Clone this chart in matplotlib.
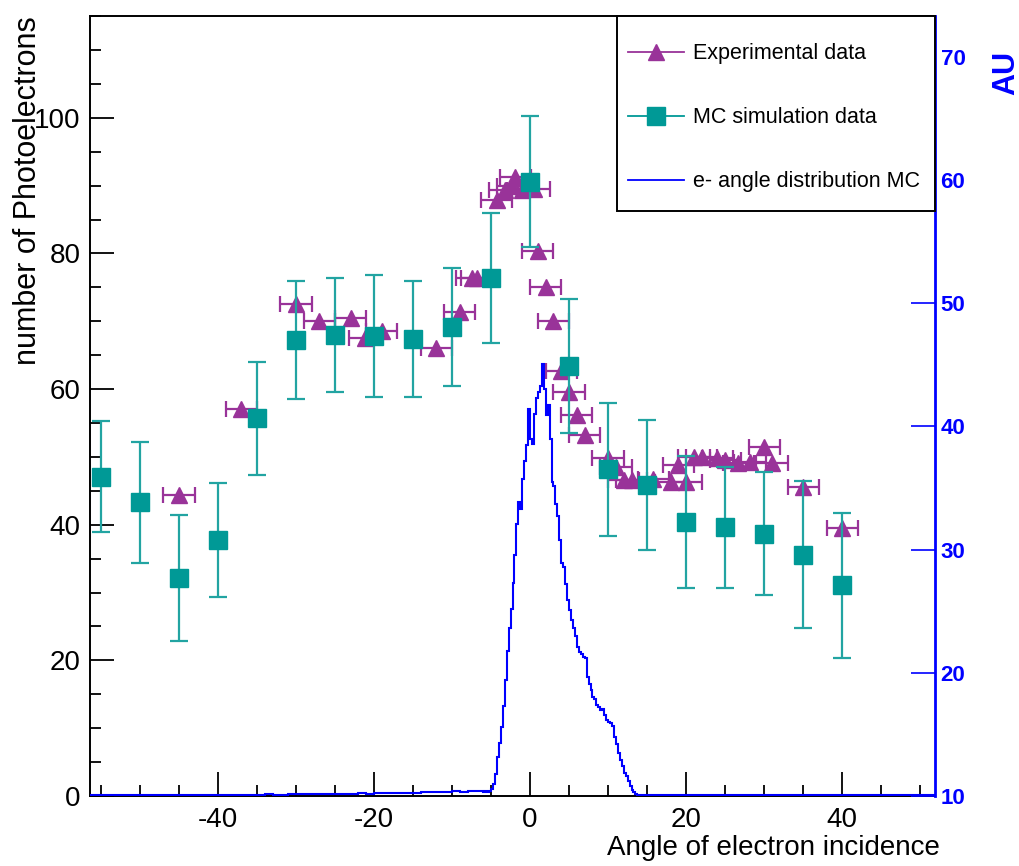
import numpy as np
import matplotlib
matplotlib.use("Agg")
import matplotlib.pyplot as plt
from matplotlib.lines import Line2D
from matplotlib.patches import Rectangle
from matplotlib.ticker import MultipleLocator

plt.rcParams["axes.unicode_minus"] = False

# Experimental photoelectron yield vs. angle (x errors are the angular bin half-width)
exp_angle = [-45, -37, -30, -27, -23, -21.2, -19, -12, -9, -7.5, -6.8, -4.3, -3.2, -2.3,
             -1.9, -1.0, 0.5, 1.0, 2.0, 3.0, 4.0, 5.0, 6.0, 7.0, 10.0, 11.0, 12.0, 13.0,
             15.8, 18.0, 19.0, 20.0, 21.0, 22.0, 24.0, 25.0, 26.7, 28.2, 30.0, 31.0, 35.0, 40.0]
exp_pe = [44.4, 57.0, 72.5, 70.0, 70.5, 67.6, 68.5, 66.0, 71.4, 76.4, 76.4, 87.9, 89.4, 90.0,
          91.2, 89.3, 89.5, 80.3, 75.1, 70.0, 62.6, 59.6, 56.2, 53.2, 49.8, 48.5, 46.6, 46.6,
          46.8, 46.3, 48.8, 46.3, 50.0, 50.0, 49.8, 49.6, 49.1, 49.3, 51.4, 49.1, 45.6, 39.5]
exp_angle_err = 2.0

# Monte Carlo simulation
mc_angle = [-55, -50, -45, -40, -35, -30, -25, -20, -15, -10, -5, 0, 5, 10, 15, 20, 25, 30, 35, 40]
mc_pe = [47.1, 43.3, 32.2, 37.8, 55.7, 67.2, 68.0, 67.8, 67.4, 69.2, 76.4, 90.6, 63.4, 48.2,
         45.9, 40.4, 39.6, 38.7, 35.6, 31.1]
mc_pe_err = [8.2, 8.9, 9.3, 8.4, 8.3, 8.7, 8.4, 9.0, 8.6, 8.7, 9.6, 9.7, 9.9, 9.8, 9.6, 9.7,
             8.9, 9.0, 10.9, 10.7]

# e- angle distribution from MC (AU), histogram contents
au_left = [10.06, 10.07, 10.06, 10.07, 10.08, 10.06, 10.07, 10.09, 10.07, 10.08,
           10.09, 10.08, 10.10, 10.09, 10.08, 10.10, 10.09, 10.11, 10.10, 10.09,
           10.11, 10.12, 10.10, 10.13, 10.12, 10.11, 10.14, 10.13, 10.15, 10.14,
           10.16, 10.15, 10.18, 10.16, 10.19, 10.21, 10.19, 10.23, 10.22, 10.25,
           10.24, 10.28, 10.26, 10.31, 10.29, 10.34, 10.31, 10.37, 10.34, 10.40, 10.37]
au_peak = [10.34, 10.40, 10.32, 10.44, 10.58, 11.0, 11.8, 13.2, 14.3, 15.6,
           17.3, 19.4, 21.8, 23.6, 25.2, 27.3, 29.6, 32.1, 33.9, 33.3,
           35.7, 37.2, 38.5, 41.4, 39.0, 38.6, 41.0, 42.3, 42.8, 43.3,
           45.1, 43.0, 40.9, 41.7, 39.0, 35.5, 35.2, 33.7, 32.7, 30.8,
           28.9, 28.6, 27.2, 25.9, 25.1, 24.3, 23.6, 23.0, 22.1, 21.7,
           21.5, 21.3, 21.2, 19.7, 19.1, 18.6, 18.0, 17.9, 17.4, 17.2,
           17.0, 17.1, 16.6, 16.2, 16.0, 15.9, 15.7, 14.8, 14.2, 13.5,
           12.9, 12.4, 11.9, 11.6, 11.2, 10.8, 10.5, 10.3, 10.18, 10.12,
           10.09, 10.08, 10.07, 10.07]
au_right = [10.07, 10.06, 10.08, 10.06, 10.07, 10.06, 10.05, 10.07, 10.06, 10.05,
            10.06, 10.05, 10.06, 10.05, 10.05, 10.06, 10.05, 10.05, 10.06, 10.05,
            10.05, 10.05, 10.06, 10.05, 10.05, 10.05, 10.05, 10.06, 10.05, 10.05,
            10.05, 10.05, 10.05, 10.05, 10.05, 10.05, 10.05]

x_ticks = [-40, -20, 0, 20, 40]
left_ticks = [0, 20, 40, 60, 80, 100]
right_ticks = [10, 20, 30, 40, 50, 60, 70]

PURPLE = "#993399"
TEAL = "#009996"
TEAL_BAR = "#22a4a2"
BLUE = "#0000ff"
SANS = ["Liberation Sans", "DejaVu Sans"]

# histogram bin edges: 1 deg tails, 0.25 deg around the peak
left_edges = -57 + np.arange(len(au_left) + 1)
peak_start = left_edges[-1]
peak_edges = peak_start + 0.25 * np.arange(len(au_peak) + 1)
right_edges = peak_edges[-1] + np.arange(len(au_right) + 1)
edges = np.concatenate([left_edges, peak_edges[1:], right_edges[1:]])
au_vals = np.array(au_left + au_peak + au_right)

fig = plt.figure(figsize=(10.19, 8.66), dpi=100)
ax = fig.add_axes([0.0883, 0.0808, 0.8293, 0.9007])
ax.set_xlim(-56.4, 51.9)
ax.set_ylim(0, 115)

ax.errorbar(exp_angle, exp_pe, xerr=exp_angle_err, fmt="^", color=PURPLE, ms=12,
            elinewidth=1.6, capsize=6, capthick=1.6, zorder=3)
ax.errorbar(mc_angle, mc_pe, yerr=mc_pe_err, fmt="s", color=TEAL, ecolor=TEAL_BAR, ms=13.5,
            elinewidth=1.6, capsize=6.5, capthick=1.6, zorder=4)

ax.set_xticks(x_ticks)
ax.xaxis.set_minor_locator(MultipleLocator(5))
ax.set_yticks(left_ticks)
ax.yaxis.set_minor_locator(MultipleLocator(5))
ax.tick_params(axis="both", which="major", direction="in", length=17, width=1.3,
               color="black", labelsize=20, pad=7)
ax.tick_params(axis="both", which="minor", direction="in", length=8, width=1.3, color="black")
ax.tick_params(axis="x", which="major", pad=8)
for lab in ax.get_xticklabels() + ax.get_yticklabels():
    lab.set_family(SANS)
for side in ("left", "bottom", "top"):
    ax.spines[side].set_linewidth(1.4)
ax.spines["right"].set_visible(False)

ax.set_xlabel("Angle of electron incidence", loc="right", fontsize=20, family=SANS)
ax.xaxis.set_label_coords(1.006, -0.050)
ax.set_ylabel("number of Photoelectrons", loc="top", fontsize=22, family=SANS)
ax.yaxis.set_label_coords(-0.056, 1.0)

ax2 = ax.twinx()
ax2.set_ylim(10, 73.3)
ax2.stairs(au_vals, edges, baseline=None, color=BLUE, linewidth=1.5, zorder=2)
ax2.set_yticks(right_ticks)
ax2.tick_params(axis="y", which="major", direction="in", length=17, width=1.2,
                color=BLUE, labelcolor=BLUE, labelsize=16, pad=4)
for lab in ax2.get_yticklabels():
    lab.set_family(SANS)
    lab.set_fontweight("bold")
for side in ("left", "bottom", "top"):
    ax2.spines[side].set_visible(False)
ax2.spines["right"].set_color(BLUE)
ax2.spines["right"].set_linewidth(2.0)
ax2.set_ylabel("AU", loc="top", fontsize=22, fontweight="bold", color=BLUE, family=SANS)
ax2.yaxis.set_label_coords(1.066, 0.955)

# legend: white framed box in the upper right corner, entries laid out inside it
box = Rectangle((0.6237, 0.75), 0.3763, 0.25, transform=ax2.transAxes, facecolor="white",
                edgecolor="black", linewidth=1.4, zorder=9, clip_on=False)
ax2.add_patch(box)

handles = [
    Line2D([], [], color=PURPLE, marker="^", ms=12, lw=1.3),
    Line2D([], [], color=TEAL, marker="s", ms=13, lw=1.3),
    Line2D([], [], color=BLUE, lw=1.3),
]
labels = ["Experimental data", "MC simulation data", "e- angle distribution MC"]
leg = ax2.legend(handles, labels, loc="upper left", bbox_to_anchor=(0.6367, 0.9650),
                 borderaxespad=0, borderpad=0, labelspacing=2.0,
                 handlelength=2.6, handletextpad=0.42, frameon=False,
                 prop={"family": SANS, "size": 15.5})
leg.set_zorder(10)

fig.savefig("out.png", dpi=100)
